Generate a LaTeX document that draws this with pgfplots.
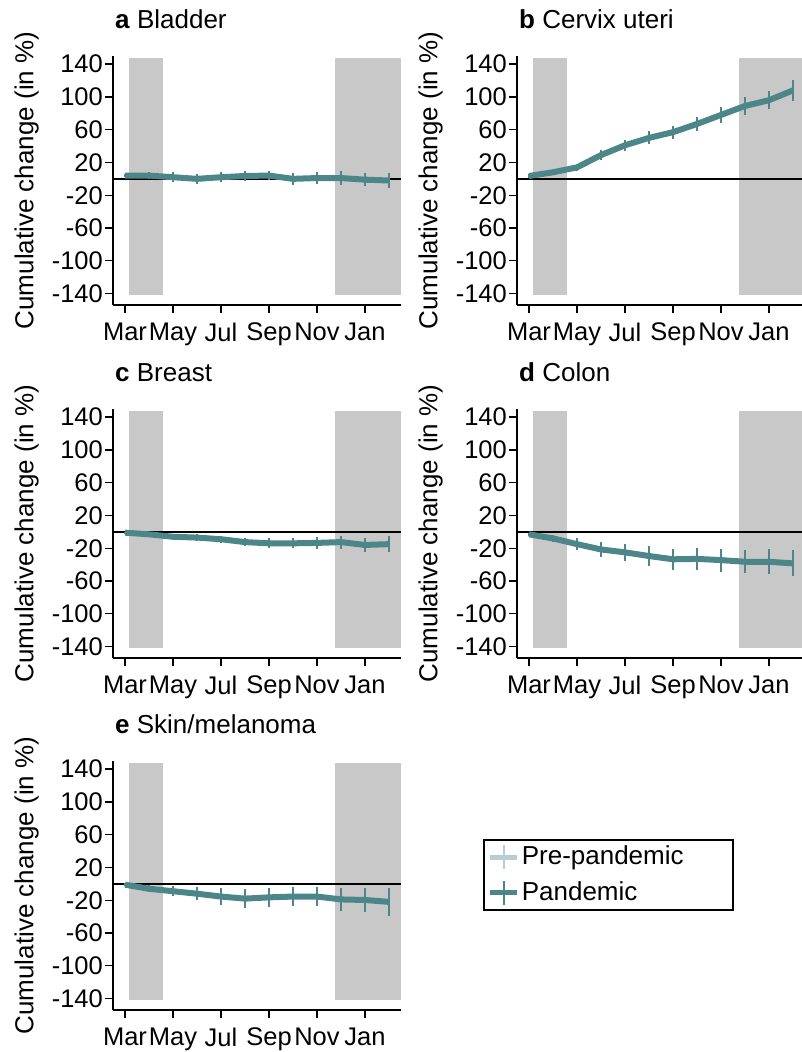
\documentclass[border=0pt]{standalone}
\usepackage{fontspec}
\setmainfont{Liberation Sans}
\usepackage{pgfplots}
\pgfplotsset{compat=1.18}
\usepackage{pgfplotstable}

\definecolor{tealc}{HTML}{4C8689}
\definecolor{prec}{HTML}{B8CDCF}
\definecolor{shade}{HTML}{C8C8C8}

\pgfplotstableread{
m y e
0 4 2
1 4 4
2 2 6
3 0 6
4 2 6
5 3.5 6
6 4 6
7 0 7
8 1 7
9 1 8
10 -1 8
11 -2 9
}\bladder
\pgfplotstableread{
m y e
0 3.5 2
1 8 3
2 14 4
3 29 6
4 41 7
5 50 8
6 57 8
7 67 9
8 78 10
9 89 11
10 96 11
11 108 13
}\cervix
\pgfplotstableread{
m y e
0 -1 1
1 -3 2
2 -6 3
3 -7 4
4 -9 4
5 -12.5 5
6 -14 6
7 -14 6
8 -13.5 7
9 -12.5 8
10 -16 9
11 -15 10
}\breast
\pgfplotstableread{
m y e
0 -3 2
1 -8 4
2 -15 7
3 -21.5 9
4 -25 10
5 -29.5 12
6 -33.5 13
7 -33 13
8 -34.5 14
9 -36.5 14
10 -36.5 15
11 -38.5 16
}\colon
\pgfplotstableread{
m y e
0 -1 2
1 -6 4
2 -9 6
3 -12 8
4 -15.5 10
5 -18 12
6 -16.5 12
7 -15.5 12
8 -15.5 12
9 -19 14
10 -19.7 15
11 -22 17
}\skin

\newcommand{\tfont}{\fontsize{25.5}{29}\selectfont}
\pgfplotsset{
  panel/.style={
    scale only axis, width=288pt, height=249pt,
    xmin=-0.5, xmax=11.5, ymin=-154, ymax=150,
    axis lines=left, axis line style={-, line width=1.6pt},
    every tick/.style={black, line width=1.4pt},
    major tick length=8pt, tick align=outside,
    xtick={0,2,4,6,8,10},
    xticklabels={{\tfont Mar},{\tfont May},{\tfont Jul},{\tfont Sep},{\tfont Nov},{\tfont Jan}},
    ytick={-140,-100,-60,-20,20,60,100,140},
    yticklabels={{\tfont -140},{\tfont -100},{\tfont -60},{\tfont -20},{\tfont 20},{\tfont 60},{\tfont 100},{\tfont 140}},
    xticklabel style={inner xsep=0pt, yshift=-1pt},
    yticklabel style={inner xsep=2pt},
    ylabel={Cumulative change (in \%)},
    ylabel style={font=\fontsize{26}{30}\selectfont, at={(axis description cs:-0.300,0.5)}, anchor=center},
    title style={at={(axis description cs:0,1)}, anchor=base west, xshift=2pt, yshift=21pt, font=\fontsize{26}{30}\selectfont, inner sep=0pt},
  },
}

\newcommand{\panelcontent}[1]{%
  \addplot[fill=shade, draw=none] coordinates {(0.15,-141.5) (1.6,-141.5) (1.6,147) (0.15,147)} -- cycle;
  \addplot[fill=shade, draw=none] coordinates {(8.75,-141.5) (11.5,-141.5) (11.5,147) (8.75,147)} -- cycle;
  \addplot[black, line width=1.5pt] coordinates {(-0.5,0) (11.5,0)};
  \addplot[tealc, line width=6pt, line join=round, mark=none,
    error bars/.cd, y dir=both, y explicit, error mark=none,
    error bar style={line width=2.2pt, tealc}] table[x=m, y=y, y error=e] {#1};
}

\begin{document}
\fontsize{25}{29}\selectfont
\begin{tikzpicture}[font=\fontsize{25}{29}\selectfont]
\useasboundingbox (0,0) rectangle (801pt,1052pt);

\begin{axis}[panel, at={(113pt,747pt)}, anchor=south west, title={\textbf{a} Bladder}]
\panelcontent{\bladder}
\end{axis}

\begin{axis}[panel, at={(517pt,747pt)}, anchor=south west, title={\textbf{b} Cervix uteri}]
\panelcontent{\cervix}
\end{axis}

\begin{axis}[panel, at={(113pt,394pt)}, anchor=south west, title={\textbf{c} Breast}]
\panelcontent{\breast}
\end{axis}

\begin{axis}[panel, at={(517pt,394pt)}, anchor=south west, title={\textbf{d} Colon}]
\panelcontent{\colon}
\end{axis}

\begin{axis}[panel, at={(113pt,42pt)}, anchor=south west, title={\textbf{e} Skin/melanoma}]
\panelcontent{\skin}
\end{axis}

\begin{axis}[at={(483pt,144pt)}, anchor=south west, scale only axis,
  width=255pt, height=69pt, hide axis, xmin=0, xmax=1, ymin=0, ymax=1,
  legend style={at={(0,1)}, anchor=north west, draw=black, line width=1.6pt,
    font=\fontsize{26}{30}\selectfont, inner xsep=4pt, inner ysep=4pt, row sep=9pt},
  legend cell align=left,
  legend image code/.code={
    \draw[#1, line width=5pt] (0pt,0pt) -- (27pt,0pt);
    \draw[#1, line width=2pt] (13.5pt,-12pt) -- (13.5pt,12pt);
  }]
\addlegendimage{prec}
\addlegendentry{\makebox[205pt][l]{Pre-pandemic}}
\addlegendimage{tealc}
\addlegendentry{\makebox[205pt][l]{Pandemic}}
\end{axis}
\end{tikzpicture}
\end{document}
